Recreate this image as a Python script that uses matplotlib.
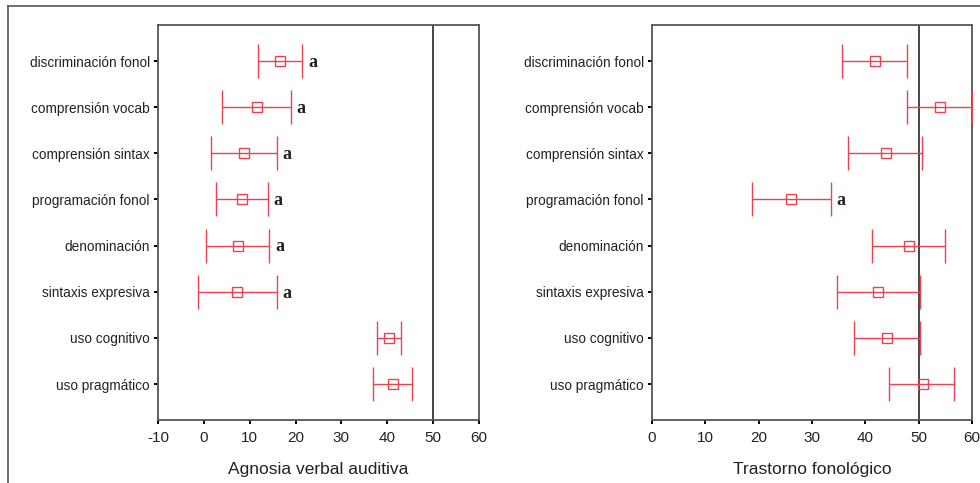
import matplotlib
matplotlib.use("Agg")
import matplotlib.pyplot as plt
from matplotlib.lines import Line2D
import numpy as np

categories = ["discriminación fonol", "comprensión vocab", "comprensión sintax",
              "programación fonol", "denominación", "sintaxis expresiva",
              "uso cognitivo", "uso pragmático"]

# Agnosia verbal auditiva
avu_mean = [16.7, 11.5, 8.7, 8.4, 7.5, 7.2, 40.3, 41.3]
avu_low = [11.7, 4.0, 1.6, 2.6, 0.4, -1.2, 37.8, 36.8]
avu_high = [21.5, 19.0, 16.0, 13.9, 14.3, 16.0, 42.9, 45.3]
avu_sig = ["a", "a", "a", "a", "a", "a", "", ""]

# Trastorno fonológico
tf_mean = [41.75, 54.0, 43.8, 26.1, 48.2, 42.4, 44.0, 50.8]
tf_low = [35.6, 47.9, 36.7, 18.8, 41.3, 34.7, 37.9, 44.5]
tf_high = [47.9, 60.0, 50.6, 33.5, 54.9, 50.2, 50.2, 56.7]
tf_sig = ["", "", "", "a", "", "", "", ""]

left_ticks = [-10, 0, 10, 20, 30, 40, 50, 60]
right_ticks = [0, 10, 20, 30, 40, 50, 60]
ref_value = 50

plt.rcParams['font.family'] = ['Liberation Sans', 'DejaVu Sans']

fig = plt.figure(figsize=(9.8, 4.83), dpi=100)

red = "#e8434f"

def panel(rect, mean, low, high, sig, xlim, ticks, xlabel):
    ax = fig.add_axes(rect)
    y = np.arange(len(categories))
    mean = np.array(mean); low = np.array(low); high = np.array(high)
    ax.axvline(ref_value, color="#444444", lw=1.4, zorder=1)
    ax.errorbar(mean, y, xerr=[mean - low, high - mean], fmt="s", mfc="none",
                mec=red, ms=6.5, mew=1.0, ecolor=red, elinewidth=1.0,
                capsize=12, capthick=1.2, zorder=3, clip_on=True)
    for yi, hi, s in zip(y, high, sig):
        if s:
            ax.annotate(s, (hi, yi), xytext=(4, -1), textcoords="offset points",
                        ha="left", va="center", fontsize=13, fontweight="bold",
                        color="#222222",
                        family=["Liberation Serif", "DejaVu Serif"])
    ax.set_xlim(*xlim)
    ax.set_ylim(len(categories) - 1 + 0.78, -0.78)
    ax.set_yticks(y)
    ax.set_yticklabels(categories, fontsize=9.8, color="#222222")
    ax.set_xticks(ticks)
    ax.set_xticklabels([str(t) for t in ticks], fontsize=11, color="#222222")
    ax.tick_params(axis="y", length=3, width=1.4, direction="out", pad=3)
    ax.tick_params(axis="x", length=3, width=1.4, direction="out", pad=5)
    ax.set_xlabel(xlabel, fontsize=12.5, labelpad=12, color="#222222")
    for sp in ax.spines.values():
        sp.set_color("#555555")
        sp.set_linewidth(1.3)
    return ax

panel([0.1612, 0.1304, 0.3276, 0.8178], avu_mean, avu_low, avu_high, avu_sig,
      (-10, 60), left_ticks, "Agnosia verbal auditiva")
panel([0.6653, 0.1304, 0.3265, 0.8178], tf_mean, tf_low, tf_high, tf_sig,
      (0, 60), right_ticks, "Trastorno fonológico")

# outer frame lines
fig.add_artist(Line2D([8/980, 8/980], [0, 1 - 6/483], color="#555555", lw=1.2))
fig.add_artist(Line2D([8/980, 1], [1 - 6/483, 1 - 6/483], color="#555555", lw=1.2))

fig.savefig("out.png", dpi=100)
